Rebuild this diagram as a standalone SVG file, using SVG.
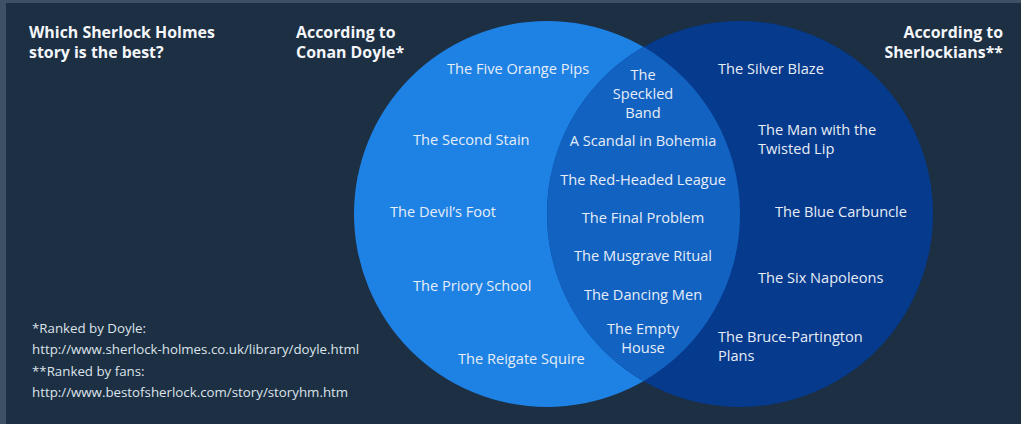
<svg xmlns="http://www.w3.org/2000/svg" width="1021" height="424" viewBox="0 0 1021 424">
  <style>
    .title { font-family: "Open Sans", "Liberation Sans", sans-serif; font-size: 15.9px; font-weight: 700; fill: #f4f6f9; }
    .label { font-family: "Open Sans", "Liberation Sans", sans-serif; font-size: 14.6px; fill: #e6edf7; }
    .mid { text-anchor: middle; }
    .note { font-family: "Open Sans", "Liberation Sans", sans-serif; font-size: 13.3px; fill: #dde3ea; }
  </style>

  <!-- frame and background -->
  <rect x="0" y="0" width="1021" height="424" fill="#3e5064"/>
  <rect x="6" y="3" width="1015" height="421" fill="#1c2f43"/>

  <!-- Venn sets -->
  <g id="set-doyle">
    <circle cx="547" cy="214" r="193" fill="#1e82e5"/>
  </g>
  <g id="set-sherlockians">
    <circle cx="740" cy="214" r="193" fill="#063a8c"/>
  </g>
  <g id="set-both">
    <path d="M643.5 46.86 A193 193 0 0 1 643.5 381.14 A193 193 0 0 1 643.5 46.86 Z" fill="#1262c2"/>
  </g>

  <!-- headings -->
  <g id="heading-question">
    <text class="title" x="29" y="38">Which Sherlock Holmes</text>
    <text class="title" x="29" y="58">story is the best?</text>
  </g>
  <g id="heading-doyle">
    <text class="title" x="296" y="38">According to</text>
    <text class="title" x="296" y="58">Conan Doyle*</text>
  </g>
  <g id="heading-sherlockians" text-anchor="end">
    <text class="title" x="1003" y="38">According to</text>
    <text class="title" x="1003" y="58">Sherlockians**</text>
  </g>

  <!-- Doyle only -->
  <g id="doyle-stories">
    <text class="label" x="447" y="74">The Five Orange Pips</text>
    <text class="label" x="413" y="145">The Second Stain</text>
    <text class="label" x="390" y="217">The Devil’s Foot</text>
    <text class="label" x="413" y="291">The Priory School</text>
    <text class="label" x="458" y="364">The Reigate Squire</text>
  </g>

  <!-- both lists -->
  <g id="shared-stories">
    <text class="label mid" x="643" y="80">The</text>
    <text class="label mid" x="643" y="99">Speckled</text>
    <text class="label mid" x="643" y="118">Band</text>
    <text class="label mid" x="643" y="146">A Scandal in Bohemia</text>
    <text class="label mid" x="643" y="185">The Red-Headed League</text>
    <text class="label mid" x="643" y="223">The Final Problem</text>
    <text class="label mid" x="643" y="261">The Musgrave Ritual</text>
    <text class="label mid" x="643" y="300">The Dancing Men</text>
    <text class="label mid" x="643" y="334">The Empty</text>
    <text class="label mid" x="643" y="353">House</text>
  </g>

  <!-- Sherlockians only -->
  <g id="sherlockian-stories">
    <text class="label" x="718" y="74">The Silver Blaze</text>
    <text class="label" x="758" y="135">The Man with the</text>
    <text class="label" x="758" y="154">Twisted Lip</text>
    <text class="label" x="775" y="217">The Blue Carbuncle</text>
    <text class="label" x="758" y="283">The Six Napoleons</text>
    <text class="label" x="718" y="342">The Bruce-Partington</text>
    <text class="label" x="718" y="361">Plans</text>
  </g>

  <!-- sources -->
  <g id="footnotes">
    <text class="note" x="32" y="333">*Ranked by Doyle:</text>
    <text class="note" x="32" y="354">http://www.sherlock-holmes.co.uk/library/doyle.html</text>
    <text class="note" x="32" y="376">**Ranked by fans:</text>
    <text class="note" x="32" y="397">http://www.bestofsherlock.com/story/storyhm.htm</text>
  </g>
</svg>
